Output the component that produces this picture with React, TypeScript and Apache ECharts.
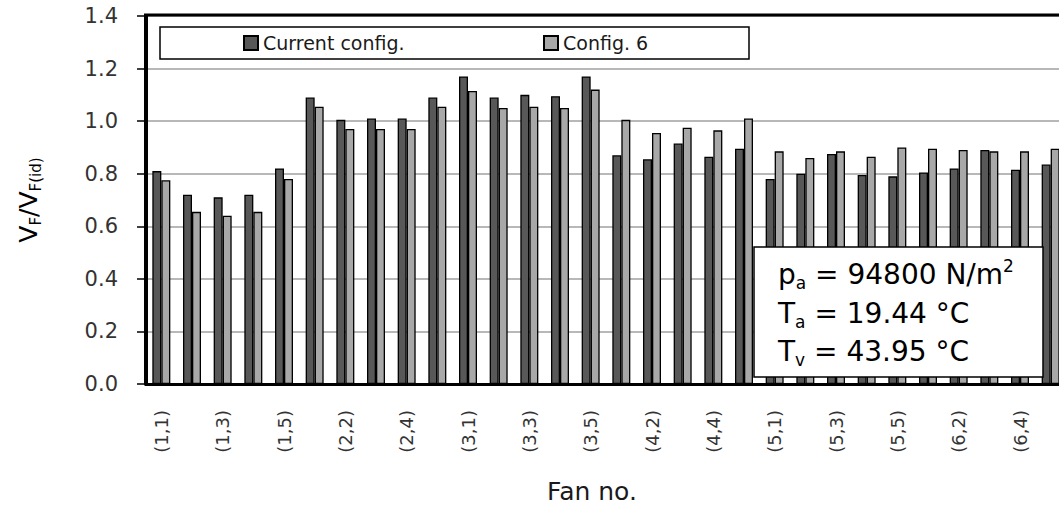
import React, { useEffect, useRef } from 'react';
import * as echarts from 'echarts';

const categories = [
  '(1,1)', '(1,2)', '(1,3)', '(1,4)', '(1,5)',
  '(2,1)', '(2,2)', '(2,3)', '(2,4)', '(2,5)',
  '(3,1)', '(3,2)', '(3,3)', '(3,4)', '(3,5)',
  '(4,1)', '(4,2)', '(4,3)', '(4,4)', '(4,5)',
  '(5,1)', '(5,2)', '(5,3)', '(5,4)', '(5,5)',
  '(6,1)', '(6,2)', '(6,3)', '(6,4)', '(6,5)',
];

const currentConfig = [
  0.81, 0.72, 0.71, 0.72, 0.82,
  1.09, 1.005, 1.01, 1.01, 1.09,
  1.17, 1.09, 1.10, 1.095, 1.17,
  0.87, 0.855, 0.915, 0.865, 0.895,
  0.78, 0.80, 0.875, 0.795, 0.79,
  0.805, 0.82, 0.89, 0.815, 0.835,
];

const config6 = [
  0.775, 0.655, 0.64, 0.655, 0.78,
  1.055, 0.97, 0.97, 0.97, 1.055,
  1.115, 1.05, 1.055, 1.05, 1.12,
  1.005, 0.955, 0.975, 0.965, 1.01,
  0.885, 0.86, 0.885, 0.865, 0.90,
  0.895, 0.89, 0.885, 0.885, 0.895,
];

const seriesNames = ['Current config.', 'Config. 6'];
const yMin = 0;
const yMax = 1.4;
const yStep = 0.2;

const FONT = 'DejaVu Sans';

export default function App() {
  const ref = useRef<HTMLDivElement>(null);

  useEffect(() => {
    if (!ref.current) return;
    const chart = echarts.init(ref.current, null, { renderer: 'svg' });

    const legendCommon = {
      top: 33,
      padding: 0,
      itemWidth: 14,
      itemHeight: 14,
      icon: 'rect',
      selectedMode: false,
      textStyle: { fontFamily: FONT, fontSize: 19, color: '#1a1a1a', lineHeight: 20 },
    };

    const mainRich = {
      m: { fontFamily: FONT, fontSize: 28, lineHeight: 34, color: '#1a1a1a' },
      s: { fontFamily: FONT, fontSize: 17, lineHeight: 17, verticalAlign: 'bottom', color: '#1a1a1a' },
      p: { fontFamily: FONT, fontSize: 17, lineHeight: 17, verticalAlign: 'top', color: '#1a1a1a' },
    };

    chart.setOption({
      animation: false,
      textStyle: { fontFamily: FONT },
      grid: {
        left: 146,
        right: -7,
        top: 16,
        bottom: 126,
        containLabel: false,
        outerBoundsMode: 'none',
      },
      legend: [
        { ...legendCommon, left: 243, data: [seriesNames[0]] },
        { ...legendCommon, left: 543, data: [seriesNames[1]] },
      ],
      xAxis: {
        type: 'category',
        data: categories,
        axisLine: { show: true, lineStyle: { color: '#000', width: 3 } },
        axisTick: { show: false },
        axisLabel: {
          interval: 1,
          rotate: 90,
          fontFamily: FONT,
          fontSize: 18,
          color: '#333',
          margin: 26,
        },
        splitLine: { show: false },
      },
      yAxis: {
        type: 'value',
        min: yMin,
        max: yMax,
        interval: yStep,
        axisLine: { show: true, lineStyle: { color: '#000', width: 4 } },
        axisTick: { show: true, length: 9, lineStyle: { color: '#000', width: 1.5 } },
        axisLabel: {
          fontFamily: FONT,
          fontSize: 21,
          color: '#333',
          margin: 28,
          formatter: (v: number) => v.toFixed(1),
        },
        splitLine: { show: true, lineStyle: { color: '#a0a0a0', width: 1.5 } },
      },
      series: [
        {
          name: seriesNames[0],
          type: 'bar',
          data: currentConfig,
          barWidth: 9,
          barGap: '0%',
          itemStyle: { color: '#585858', borderColor: '#000', borderWidth: 1.3 },
        },
        {
          name: seriesNames[1],
          type: 'bar',
          data: config6,
          barWidth: 9,
          barGap: '0%',
          itemStyle: { color: '#a8a8a8', borderColor: '#000', borderWidth: 1.3 },
        },
      ],
      graphic: [
        {
          type: 'line',
          z: 50,
          shape: { x1: 144, y1: 15, x2: 1070, y2: 15 },
          style: { stroke: '#000', lineWidth: 3 },
        },
        {
          type: 'rect',
          z: 3,
          shape: { x: 160, y: 27, width: 589, height: 32 },
          style: { fill: '#fff', stroke: '#000', lineWidth: 1.5 },
        },
        {
          type: 'rect',
          z: 100,
          shape: { x: 754, y: 247, width: 289, height: 130 },
          style: { fill: '#fff', stroke: '#000', lineWidth: 1.5 },
        },
        {
          type: 'text',
          z: 101,
          x: 778,
          y: 274,
          style: {
            text: '{m|p}{s|a}{m| = 94800 N/m}{p|2}',
            rich: mainRich,
            align: 'left',
            verticalAlign: 'middle',
          },
        },
        {
          type: 'text',
          z: 101,
          x: 778,
          y: 313,
          style: {
            text: '{m|T}{s|a}{m| = 19.44 °C}',
            rich: mainRich,
            align: 'left',
            verticalAlign: 'middle',
          },
        },
        {
          type: 'text',
          z: 101,
          x: 778,
          y: 351,
          style: {
            text: '{m|T}{s|v}{m| = 43.95 °C}',
            rich: mainRich,
            align: 'left',
            verticalAlign: 'middle',
          },
        },
        {
          type: 'text',
          x: 28,
          y: 200,
          rotation: Math.PI / 2,
          style: {
            text: '{m|V}{s|F}{m|/V}{s|F(id)}',
            rich: {
              m: { fontFamily: FONT, fontSize: 25, lineHeight: 30, color: '#1a1a1a' },
              s: { fontFamily: FONT, fontSize: 15, lineHeight: 15, verticalAlign: 'bottom', color: '#1a1a1a' },
            },
            align: 'center',
            verticalAlign: 'middle',
          },
        },
        {
          type: 'text',
          x: 592,
          y: 491,
          style: {
            text: 'Fan no.',
            fontFamily: FONT,
            fontSize: 25,
            fill: '#1a1a1a',
            align: 'center',
            verticalAlign: 'middle',
          },
        },
      ],
    });

    return () => chart.dispose();
  }, []);

  return (
    <div
      ref={ref}
      style={{ position: 'absolute', left: 0, top: 0, width: 1059, height: 510 }}
    />
  );
}
